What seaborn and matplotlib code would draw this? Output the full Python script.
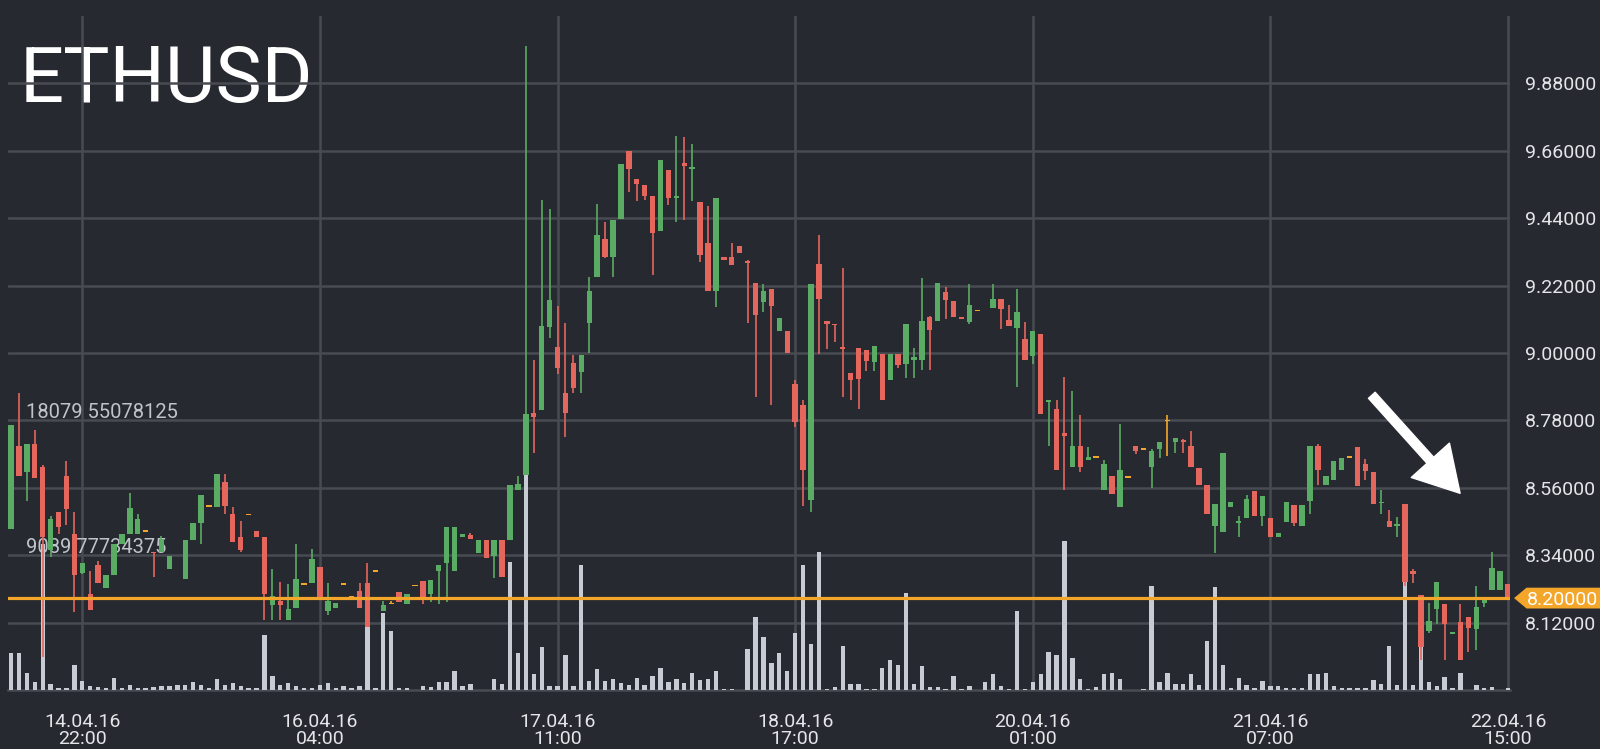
import numpy as np
import matplotlib
matplotlib.use("Agg")
import matplotlib.pyplot as plt
import seaborn as sns
from matplotlib.patches import FancyArrowPatch, Polygon
from matplotlib import transforms

nan = np.nan

symbol = "ETHUSD"

opens = [8.426, 8.698, 8.611, 8.704, 8.628, 8.356, 8.481, 8.600, 8.410, 8.283,
         8.214, 8.307, 8.234, 8.276, 8.377, 8.410, 8.410, 8.418, 8.352, 8.350,
         8.296, nan, 8.261, 8.390, 8.445, 8.500, 8.497, 8.579, 8.475, 8.399,
         8.473, 8.419, 8.399, 8.179, 8.190, 8.129, 8.168, 8.247, 8.250, 8.303,
         8.158, 8.167, 8.247, 8.205, 8.223, 8.250, 8.288, 8.158, 8.182, 8.220,
         8.180, 8.241, 8.256, 8.214, 8.290, 8.314, 8.290, 8.399, 8.405, 8.348,
         8.390, 8.337, 8.390, 8.391, 8.552, 8.601, 8.803, 8.813, 9.084, 9.018,
         8.868, 8.966, 8.937, 9.097, 9.247, 9.371, 9.312, 9.439, 9.658, 9.567,
         9.547, 9.514, 9.397, 9.596, 9.505, 9.620, 9.600, 9.492, 9.358, 9.201,
         9.312, 9.312, 9.348, 9.300, 9.227, 9.165, 9.208, 9.071, 9.071, 8.900,
         8.829, 8.520, 9.289, 9.106, 9.096, 9.020, 8.934, 9.017, 9.011, 8.970,
         8.998, 8.911, 8.998, 8.965, 8.978, 8.978, 9.117, 9.106, 9.199, 9.169,
         9.117, 9.101, 9.139, nan, 9.148, 9.175, 9.107, 9.082, 9.047, 8.989,
         9.061, 8.840, 8.818, 8.740, 8.628, 8.698, 8.652, 8.660, 8.552, 8.598,
         8.497, 8.595, 8.696, 8.686, 8.628, 8.688, 8.780, 8.709, 8.715, 8.698,
         8.626, 8.568, 8.434, 8.416, 8.497, 8.446, 8.462, 8.549, 8.467, 8.462,
         8.399, 8.450, 8.503, 8.434, 8.517, 8.698, 8.570, 8.586, 8.619, 8.660,
         8.693, 8.639, 8.611, 8.510, 8.451, 8.436, 8.508, 8.290, 8.209, 8.093,
         8.163, 8.180, 8.085, 8.121, 8.137, 8.098, 8.183, 8.228, 8.228, 8.245]

highs = [8.764, 8.869, 8.702, 8.749, 8.633, 8.468, 8.481, 8.647, 8.481, 8.315,
         8.290, 8.321, 8.274, 8.377, 8.410, 8.544, 8.475, 8.418, 8.352, 8.404,
         8.337, nan, 8.390, 8.446, 8.535, 8.500, 8.604, 8.604, 8.497, 8.453,
         8.473, 8.419, 8.399, 8.296, 8.252, 8.247, 8.377, 8.247, 8.361, 8.303,
         8.250, 8.185, 8.247, 8.205, 8.250, 8.315, 8.288, 8.192, 8.190, 8.220,
         8.212, 8.241, 8.256, 8.260, 8.309, 8.432, 8.432, 8.410, 8.412, 8.390,
         8.390, 8.390, 8.390, 8.568, 8.597, 10.002, 8.976, 9.501, 9.469, 9.155,
         9.097, 8.995, 8.992, 9.247, 9.485, 9.426, 9.433, 9.616, 9.658, 9.567,
         9.547, 9.514, 9.629, 9.596, 9.707, 9.704, 9.681, 9.492, 9.479, 9.505,
         9.312, 9.358, 9.348, 9.302, 9.227, 9.224, 9.208, 9.113, 9.071, 8.911,
         8.845, 9.226, 9.384, 9.106, 9.096, 9.277, 8.934, 9.017, 9.011, 9.023,
         8.998, 8.998, 8.998, 9.096, 9.017, 9.246, 9.120, 9.229, 9.217, 9.169,
         9.117, 9.224, 9.139, nan, 9.224, 9.175, 9.158, 9.210, 9.101, 9.071,
         9.061, 8.848, 8.845, 8.921, 8.875, 8.799, 8.693, 8.660, 8.652, 8.598,
         8.769, 8.595, 8.696, 8.686, 8.688, 8.709, 8.796, 8.723, 8.720, 8.745,
         8.626, 8.568, 8.508, 8.673, 8.514, 8.467, 8.537, 8.549, 8.533, 8.462,
         8.413, 8.514, 8.503, 8.503, 8.698, 8.704, 8.597, 8.646, 8.657, 8.660,
         8.693, 8.655, 8.611, 8.554, 8.486, 8.464, 8.508, 8.296, 8.209, 8.183,
         8.254, 8.180, 8.088, 8.180, 8.137, 8.238, 8.196, 8.349, 8.290, 8.245]

lows = [8.426, 8.597, 8.517, 8.593, 8.007, 8.334, 8.410, 8.437, 8.154, 8.279,
        8.162, 8.249, 8.234, 8.276, 8.377, 8.410, 8.410, 8.418, 8.268, 8.350,
        8.296, nan, 8.261, 8.390, 8.375, 8.500, 8.497, 8.475, 8.383, 8.350,
        8.473, 8.399, 8.127, 8.127, 8.127, 8.129, 8.168, 8.247, 8.250, 8.205,
        8.146, 8.167, 8.247, 8.205, 8.168, 8.105, 8.288, 8.158, 8.182, 8.187,
        8.180, 8.241, 8.180, 8.187, 8.180, 8.187, 8.290, 8.399, 8.394, 8.348,
        8.332, 8.267, 8.269, 8.391, 8.552, 8.601, 8.673, 8.813, 9.050, 8.930,
        8.725, 8.870, 8.868, 8.999, 9.247, 9.309, 9.247, 9.439, 9.524, 9.495,
        9.501, 9.253, 9.397, 9.482, 9.426, 9.433, 9.495, 9.296, 9.201, 9.149,
        9.305, 9.286, 9.328, 9.097, 8.855, 9.133, 8.829, 9.071, 9.000, 8.760,
        8.500, 8.480, 8.998, 9.014, 9.036, 8.858, 8.847, 8.818, 8.941, 8.941,
        8.848, 8.911, 8.952, 8.918, 8.918, 8.943, 8.943, 9.106, 9.112, 9.117,
        9.113, 9.096, 9.139, nan, 9.148, 9.077, 9.087, 8.889, 8.976, 8.965,
        8.802, 8.698, 8.617, 8.552, 8.628, 8.611, 8.652, 8.660, 8.552, 8.541,
        8.497, 8.595, 8.671, 8.686, 8.560, 8.658, 8.663, 8.674, 8.673, 8.628,
        8.568, 8.475, 8.348, 8.416, 8.497, 8.399, 8.462, 8.467, 8.435, 8.399,
        8.399, 8.450, 8.435, 8.434, 8.473, 8.568, 8.570, 8.586, 8.619, 8.660,
        8.565, 8.586, 8.506, 8.473, 8.432, 8.399, 8.240, 8.249, 7.997, 8.087,
        8.117, 7.997, 8.085, 7.997, 8.023, 8.030, 8.170, 8.228, 8.228, 8.202]

closes = [8.764, 8.597, 8.702, 8.593, 8.399, 8.457, 8.432, 8.492, 8.274, 8.315,
          8.162, 8.249, 8.274, 8.377, 8.410, 8.494, 8.457, 8.418, 8.346, 8.394,
          8.337, nan, 8.390, 8.446, 8.535, 8.500, 8.604, 8.502, 8.383, 8.356,
          8.473, 8.399, 8.214, 8.206, 8.176, 8.165, 8.261, 8.247, 8.326, 8.205,
          8.192, 8.185, 8.247, 8.205, 8.168, 8.105, 8.288, 8.176, 8.182, 8.187,
          8.212, 8.241, 8.203, 8.260, 8.309, 8.432, 8.432, 8.410, 8.394, 8.390,
          8.332, 8.390, 8.269, 8.568, 8.573, 8.802, 8.790, 9.087, 9.172, 8.950,
          8.803, 8.885, 8.992, 9.204, 9.384, 9.312, 9.433, 9.616, 9.599, 9.550,
          9.514, 9.391, 9.629, 9.505, 9.514, 9.612, 9.607, 9.319, 9.201, 9.505,
          9.305, 9.286, 9.328, 9.295, 9.123, 9.201, 9.155, 9.113, 9.000, 8.775,
          8.617, 9.226, 9.177, 9.096, 9.090, 9.012, 8.913, 8.916, 8.974, 9.023,
          8.848, 8.998, 8.960, 9.096, 8.987, 9.106, 9.074, 9.229, 9.172, 9.117,
          9.113, 9.157, 9.139, nan, 9.175, 9.142, 9.087, 9.134, 8.976, 9.071,
          8.802, 8.846, 8.617, 8.730, 8.698, 8.628, 8.662, 8.660, 8.639, 8.541,
          8.617, 8.595, 8.680, 8.686, 8.680, 8.709, 8.780, 8.723, 8.710, 8.628,
          8.568, 8.475, 8.508, 8.673, 8.514, 8.450, 8.522, 8.467, 8.533, 8.399,
          8.413, 8.514, 8.445, 8.503, 8.698, 8.617, 8.597, 8.646, 8.657, 8.660,
          8.565, 8.615, 8.506, 8.514, 8.432, 8.441, 8.251, 8.280, 8.039, 8.126,
          8.254, 8.117, 8.088, 7.997, 8.104, 8.170, 8.196, 8.297, 8.290, 8.202]

volumes = [2460, 2460, 1150, 530, 9700, 400, 100, 100, 1660, 620,
           250, 200, 100, 820, 100, 330, 100, 100, 200, 250,
           250, 330, 330, 550, 330, 100, 750, 330, 450, 250,
           100, 100, 3660, 930, 330, 450, 250, 100, 100, 330,
           450, 100, 250, 100, 250, 4200, 100, 5140, 3920, 100,
           100, 0, 290, 200, 510, 510, 1260, 290, 400, 0,
           0, 730, 400, 8490, 2480, 18079.55, 1040, 2840, 240, 290,
           2330, 240, 8310, 620, 1380, 620, 730, 440, 330, 820,
           330, 930, 1480, 550, 730, 440, 1150, 660, 730, 1260,
           70, 70, 0, 2730, 4830, 3550, 1770, 2480, 1260, 3770,
           8310, 3060, 9160, 90, 180, 2930, 400, 400, 90, 90,
           1440, 2000, 1660, 6430, 400, 1600, 180, 180, 90, 930,
           90, 290, 0, 510, 1040, 290, 90, 5250, 90, 510,
           1040, 2510, 2330, 9910, 2110, 730, 90, 180, 1040, 1150,
           730, 0, 0, 90, 6920, 510, 1150, 400, 400, 1060,
           330, 3280, 6830, 1660, 100, 780, 330, 100, 620, 250,
           250, 100, 100, 100, 1060, 1060, 1150, 250, 100, 100,
           100, 100, 640, 400, 2950, 330, 7200, 330, 2880, 550,
           250, 840, 100, 1150, 0, 330, 150, 200, 0, 150]

tick_pos = [9, 39, 69, 99, 129, 159, 189]
tick_labels = ["14.04.16\n22:00", "16.04.16\n04:00", "17.04.16\n11:00",
               "18.04.16\n17:00", "20.04.16\n01:00", "21.04.16\n07:00",
               "22.04.16\n15:00"]
price_ticks = [8.12, 8.34, 8.56, 8.78, 9.00, 9.22, 9.44, 9.66, 9.88]
last_price = 8.20
vol_marks = [18079.55078125, 9089.77734375]
vol_mark_labels = ["18079 55078125", "9089 77734375"]

# ---------------------------------------------------------------- style
BG = "#262930"
GRID = "#484b52"
GREEN = "#5aab63"
RED = "#e4665d"
ORANGE = "#f4a62a"
VOL = "#c7cbd4"
TXT = "#e4e5e8"

sns.set_theme(style="dark")
plt.rcParams['font.family'] = ['Roboto', 'DejaVu Sans']

W, H = 1600, 749
fig = plt.figure(figsize=(16, 7.49), dpi=100, facecolor=BG)
left_px, right_px, top_px, bot_px = 8, 1510, 16, 690
ax = fig.add_axes([left_px / W, (H - bot_px) / H,
                   (right_px - left_px) / W, (bot_px - top_px) / H])
ax.set_facecolor(BG)
ax_vol = ax.twinx()
ax_c = ax.twinx()
for a in (ax_vol, ax_c):
    a.patch.set_visible(False)
    for s in a.spines.values():
        s.set_visible(False)
    a.grid(False)

idx = np.arange(len(opens))
o = np.array(opens, float)
h = np.array(highs, float)
l = np.array(lows, float)
c = np.array(closes, float)
v = np.array(volumes, float)

# volume bars (behind candles)
sns.barplot(x=idx, y=v, ax=ax_vol, native_scale=True, color=VOL,
            saturation=1, width=0.55, errorbar=None, linewidth=0)
ax_vol.set_ylim(0, 44880)
ax_vol.set_yticks([])
ax_vol.set_ylabel("")
ax_vol.set_xlabel("")
blend_v = transforms.blended_transform_factory(ax_vol.transAxes, ax_vol.transData)
for val, lab in zip(vol_marks, vol_mark_labels):
    ax_vol.text(18 / 1502, val, lab, transform=blend_v, ha="left", va="baseline",
                fontsize=14.5, color="#bfc3ca", zorder=1)

# candles
valid = ~np.isnan(o)
cols = np.where(c > o, GREEN, np.where(c < o, RED, ORANGE))
ax_c.vlines(idx[valid], l[valid], h[valid], colors=cols[valid], lw=1.2, zorder=2)
min_h = 0.0055
body_h = np.maximum(np.abs(c - o), min_h)
body_b = np.where(np.abs(c - o) < min_h, (o + c) / 2 - min_h / 2, np.minimum(o, c))
ax_c.bar(idx[valid], body_h[valid], bottom=body_b[valid], width=0.68,
         color=cols[valid], linewidth=0, zorder=3)
ax_c.axhline(last_price, color=ORANGE, lw=2.3, zorder=4)
ax_c.set_ylim(7.90, 10.10)
ax_c.set_yticks([])

# price tag
blend_c = transforms.blended_transform_factory(ax_c.transAxes, ax_c.transData)
hh = 0.034
tag = Polygon([(1.0027, last_price), (1.0110, last_price + hh), (1.07, last_price + hh),
               (1.07, last_price - hh), (1.0110, last_price - hh)], closed=True,
              transform=blend_c, facecolor=ORANGE, edgecolor="none", clip_on=False, zorder=5)
ax_c.add_patch(tag)
ax_c.text(1.0113, last_price, f"{last_price:.5f}", transform=blend_c, ha="left",
          va="center_baseline", fontsize=14, color="white", clip_on=False, zorder=6)

# arrow annotation
arr = FancyArrowPatch(posA=(171.8, 8.862), posB=(182.95, 8.542),
                      arrowstyle="simple,head_length=32,head_width=37,tail_width=6.5",
                      mutation_scale=1, color="white", shrinkA=0, shrinkB=0,
                      zorder=7, clip_on=False)
ax_c.add_patch(arr)

# base axis: grid, ticks, title
ax.set_ylim(7.90, 10.10)
ax.set_yticks(price_ticks)
ax.set_yticklabels([f"{p:.5f}" for p in price_ticks])
ax.yaxis.tick_right()
ax.tick_params(axis="y", length=0, pad=11, labelsize=14, colors=TXT)
ax.set_xticks(tick_pos)
ax.set_xticklabels(tick_labels)
ax.tick_params(axis="x", length=0, pad=16.5, labelsize=14, colors=TXT)
for lbl in ax.get_xticklabels():
    lbl.set_linespacing(0.95)
ax.set_xlim(-0.379, 189.25)
ax.grid(True, color=GRID, lw=1.8)
ax.set_axisbelow(True)
for k, s in ax.spines.items():
    s.set_visible(k == "bottom")
ax.spines["bottom"].set_color(GRID)
ax.spines["bottom"].set_linewidth(1.8)
ax.text((20 - left_px) / 1502, (bot_px - 102) / (bot_px - top_px), symbol,
        transform=ax.transAxes, ha="left", va="baseline", fontsize=56,
        color="white", zorder=0.2)

fig.savefig("out.png", dpi=100, facecolor=BG)
